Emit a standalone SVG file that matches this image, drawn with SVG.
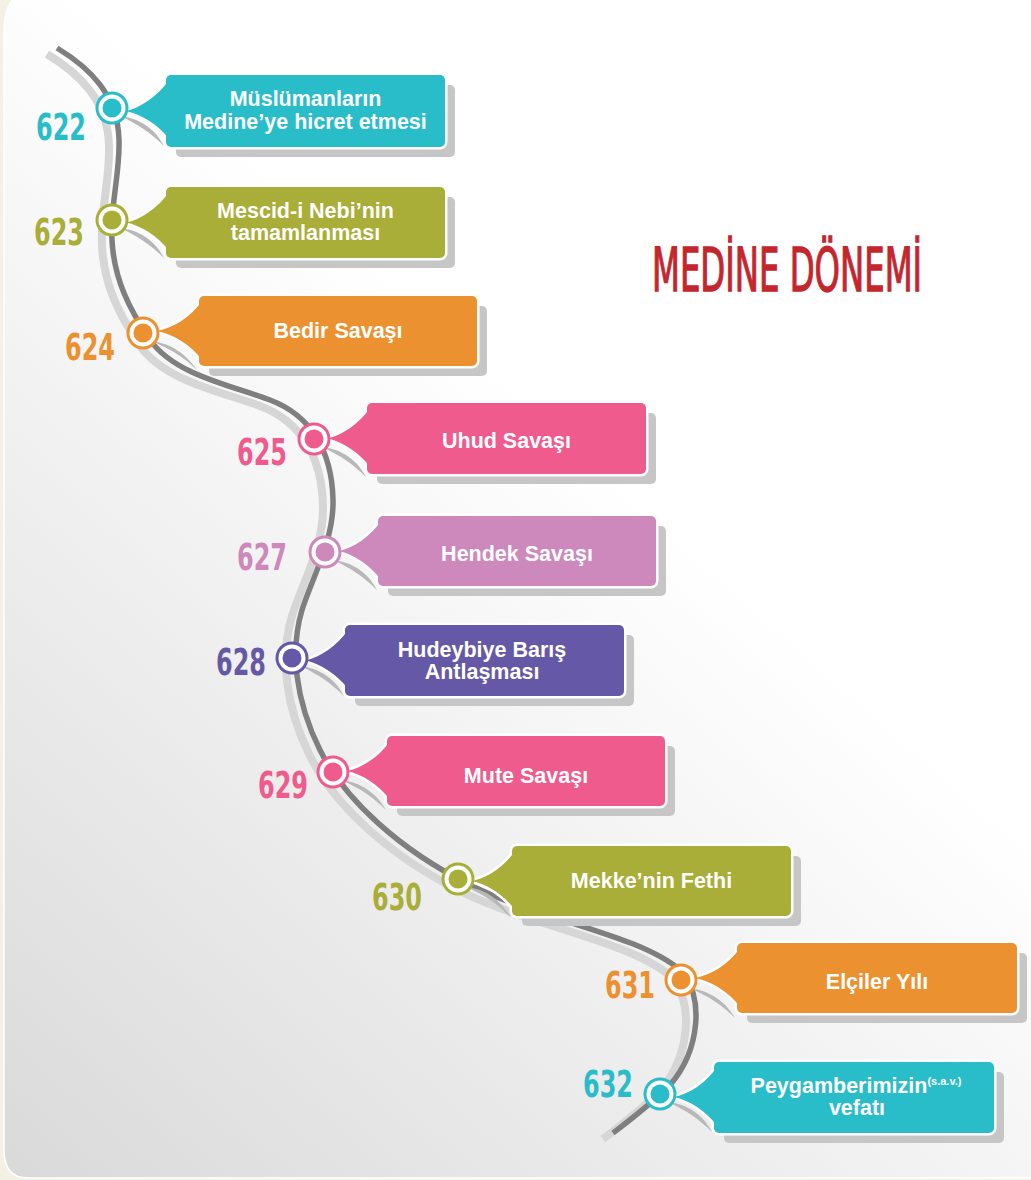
<svg xmlns="http://www.w3.org/2000/svg" width="1031" height="1180" viewBox="0 0 1031 1180">
<defs>
<linearGradient id="bg" gradientUnits="userSpaceOnUse" x1="0" y1="1180" x2="620" y2="480">
<stop offset="0" stop-color="#d9d9d9"/>
<stop offset="1" stop-color="#ffffff"/>
</linearGradient>
<path id="road" d="M57 48 C90 68 118 95 119 140 C120 175 110 205 112 240 C114 280 130 310 150 340 C175 375 230 385 270 400 C310 415 332 450 333 500 C334 540 312 578 302 610 C290 650 295 700 320 750 C345 800 400 850 470 885 C540 920 640 935 680 970 C705 995 700 1050 670 1085 C650 1105 630 1120 613 1133"/>
</defs>
<style>
.shadow{fill:#c6c6c6}
.pshadow{fill:#b8b8b8}
.outline{fill:none;stroke:#ffffff;stroke-width:5;stroke-linejoin:round}
.lbl{font-family:"Liberation Sans",Arial,sans-serif;font-weight:bold;font-size:21.5px;fill:#ffffff;text-anchor:middle}
.sup{font-size:11px}
.yr{font-family:"Liberation Sans Narrow","DejaVu Sans Condensed","Liberation Sans",sans-serif;font-stretch:condensed;font-weight:bold;font-size:38px;text-anchor:end}
.teal{fill:#29bcc9}
.olive{fill:#a8ae37}
.orange{fill:#ec9130}
.pink{fill:#ef5b8d}
.mauve{fill:#cd88bc}
.purple{fill:#6558a6}
</style>
<rect x="0" y="0" width="1031" height="1180" fill="#f4f0e3"/>
<path d="M4 -10 H1060 V1150 Q1060 1178 1030 1178 H28 Q4 1178 4 1150 V32 Q4 -10 36 -10 Z" fill="url(#bg)" stroke="#ffffff" stroke-width="1.5"/>

<g id="connectors">
<use href="#road" transform="translate(-10,6)" fill="none" stroke="#d6d6d6" stroke-width="8"/>
<use href="#road" fill="none" stroke="#7f7f7f" stroke-width="5.5"/>
</g>

<g id="title" transform="translate(652,291) scale(0.672,1)">
<text x="0" y="0" font-family="'Liberation Sans Narrow','DejaVu Sans Condensed','Liberation Sans',sans-serif" font-size="60" fill="#c4262e" stroke="#c4262e" stroke-width="1.3" textLength="402" lengthAdjust="spacingAndGlyphs">MEDİNE DÖNEMİ</text>
</g>

<!-- 622 -->
<g id="n622">
<rect class="shadow" x="176" y="85" width="279" height="72" rx="5"/>
<path class="pshadow" d="M120 116 C140 118 156 130 164 146 C152 134 138 124 120 116 Z"/>
<path class="outline" d="M169 80 C158 96 140 108 126 111 C140 114 158 124 169 139 Z"/>
<rect class="outline" x="166" y="75" width="279" height="72" rx="5"/>
<path class="teal" d="M169 80 C158 96 140 108 126 111 C140 114 158 124 169 139 Z"/>
<rect class="teal" x="166" y="75" width="279" height="72" rx="5"/>
<circle class="teal" cx="112" cy="108" r="16.5"/>
<circle cx="112" cy="108" r="13.5" fill="#ffffff"/>
<circle class="teal" cx="112" cy="108" r="9.5"/>
<text class="lbl" x="305.5" y="106">Müslümanların</text>
<text class="lbl" x="305.5" y="129">Medine’ye hicret etmesi</text>
<text class="yr teal" x="86" y="140" textLength="50" lengthAdjust="spacingAndGlyphs">622</text>
</g>

<!-- 623 -->
<g id="n623">
<rect class="shadow" x="176" y="197" width="279" height="71" rx="5"/>
<path class="pshadow" d="M120 228 C140 230 156 242 164 258 C152 246 138 236 120 228 Z"/>
<path class="outline" d="M169 192 C158 208 140 220 126 222.5 C140 225 158 236 169 251 Z"/>
<rect class="outline" x="166" y="187" width="279" height="71" rx="5"/>
<path class="olive" d="M169 192 C158 208 140 220 126 222.5 C140 225 158 236 169 251 Z"/>
<rect class="olive" x="166" y="187" width="279" height="71" rx="5"/>
<circle class="olive" cx="112" cy="220" r="16.5"/>
<circle cx="112" cy="220" r="13.5" fill="#ffffff"/>
<circle class="olive" cx="112" cy="220" r="9.5"/>
<text class="lbl" x="305.5" y="218">Mescid-i Nebi’nin</text>
<text class="lbl" x="305.5" y="240">tamamlanması</text>
<text class="yr olive" x="84" y="245" textLength="50" lengthAdjust="spacingAndGlyphs">623</text>
</g>

<!-- 624 -->
<g id="n624">
<rect class="shadow" x="209" y="306" width="278" height="70" rx="5"/>
<path class="pshadow" d="M151 341 C171 343 187 355 197 370 C185 358 171 349 151 341 Z"/>
<path class="outline" d="M202 301 C191 317 173 328 157 331 C173 334 191 345 202 360 Z"/>
<rect class="outline" x="199" y="296" width="278" height="70" rx="5"/>
<path class="orange" d="M202 301 C191 317 173 328 157 331 C173 334 191 345 202 360 Z"/>
<rect class="orange" x="199" y="296" width="278" height="70" rx="5"/>
<circle class="orange" cx="143" cy="333" r="16.5"/>
<circle cx="143" cy="333" r="13.5" fill="#ffffff"/>
<circle class="orange" cx="143" cy="333" r="9.5"/>
<text class="lbl" x="338" y="338">Bedir Savaşı</text>
<text class="yr orange" x="115" y="360" textLength="50" lengthAdjust="spacingAndGlyphs">624</text>
</g>

<!-- 625 -->
<g id="n625">
<rect class="shadow" x="377" y="413" width="279" height="71" rx="5"/>
<path class="pshadow" d="M322 447 C342 449 358 461 366 477 C354 465 340 455 322 447 Z"/>
<path class="outline" d="M370 408 C359 424 342 435 328 438.5 C342 442 359 452 370 467 Z"/>
<rect class="outline" x="367" y="403" width="279" height="71" rx="5"/>
<path class="pink" d="M370 408 C359 424 342 435 328 438.5 C342 442 359 452 370 467 Z"/>
<rect class="pink" x="367" y="403" width="279" height="71" rx="5"/>
<circle class="pink" cx="314" cy="439" r="16.5"/>
<circle cx="314" cy="439" r="13.5" fill="#ffffff"/>
<circle class="pink" cx="314" cy="439" r="9.5"/>
<text class="lbl" x="506.5" y="448">Uhud Savaşı</text>
<text class="yr pink" x="287" y="465" textLength="50" lengthAdjust="spacingAndGlyphs">625</text>
</g>

<!-- 627 -->
<g id="n627">
<rect class="shadow" x="388" y="526" width="278" height="70" rx="5"/>
<path class="pshadow" d="M333 560 C353 562 369 574 377 590 C365 578 351 568 333 560 Z"/>
<path class="outline" d="M381 521 C370 537 353 548 339 551 C353 554 370 565 381 580 Z"/>
<rect class="outline" x="378" y="516" width="278" height="70" rx="5"/>
<path class="mauve" d="M381 521 C370 537 353 548 339 551 C353 554 370 565 381 580 Z"/>
<rect class="mauve" x="378" y="516" width="278" height="70" rx="5"/>
<circle class="mauve" cx="325" cy="552" r="16.5"/>
<circle cx="325" cy="552" r="13.5" fill="#ffffff"/>
<circle class="mauve" cx="325" cy="552" r="9.5"/>
<text class="lbl" x="517" y="561">Hendek Savaşı</text>
<text class="yr mauve" x="287" y="570" textLength="50" lengthAdjust="spacingAndGlyphs">627</text>
</g>

<!-- 628 -->
<g id="n628">
<rect class="shadow" x="355" y="635" width="279" height="71" rx="5"/>
<path class="pshadow" d="M300 666 C320 668 336 680 344 696 C332 684 318 674 300 666 Z"/>
<path class="outline" d="M348 630 C337 646 320 657 306 660.5 C320 664 337 674 348 689 Z"/>
<rect class="outline" x="345" y="625" width="279" height="71" rx="5"/>
<path class="purple" d="M348 630 C337 646 320 657 306 660.5 C320 664 337 674 348 689 Z"/>
<rect class="purple" x="345" y="625" width="279" height="71" rx="5"/>
<circle class="purple" cx="292" cy="658" r="16.5"/>
<circle cx="292" cy="658" r="13.5" fill="#ffffff"/>
<circle class="purple" cx="292" cy="658" r="9.5"/>
<text class="lbl" x="482" y="657">Hudeybiye Barış</text>
<text class="lbl" x="482" y="679">Antlaşması</text>
<text class="yr purple" x="266" y="675" textLength="50" lengthAdjust="spacingAndGlyphs">628</text>
</g>

<!-- 629 -->
<g id="n629">
<rect class="shadow" x="397" y="746" width="278" height="70" rx="5"/>
<path class="pshadow" d="M341 780 C361 782 377 794 386 810 C374 798 360 788 341 780 Z"/>
<path class="outline" d="M390 741 C379 757 362 768 347 771 C362 774 379 785 390 800 Z"/>
<rect class="outline" x="387" y="736" width="278" height="70" rx="5"/>
<path class="pink" d="M390 741 C379 757 362 768 347 771 C362 774 379 785 390 800 Z"/>
<rect class="pink" x="387" y="736" width="278" height="70" rx="5"/>
<circle class="pink" cx="333" cy="772" r="16.5"/>
<circle cx="333" cy="772" r="13.5" fill="#ffffff"/>
<circle class="pink" cx="333" cy="772" r="9.5"/>
<text class="lbl" x="526" y="783">Mute Savaşı</text>
<text class="yr pink" x="308" y="798" textLength="50" lengthAdjust="spacingAndGlyphs">629</text>
</g>

<!-- 630 -->
<g id="n630">
<rect class="shadow" x="522" y="856" width="279" height="70" rx="5"/>
<path class="pshadow" d="M466 887 C486 889 502 901 511 918 C499 905 485 895 466 887 Z"/>
<path class="outline" d="M515 851 C504 867 487 878 472 881 C487 884 504 895 515 910 Z"/>
<rect class="outline" x="512" y="846" width="279" height="70" rx="5"/>
<path class="olive" d="M515 851 C504 867 487 878 472 881 C487 884 504 895 515 910 Z"/>
<rect class="olive" x="512" y="846" width="279" height="70" rx="5"/>
<circle class="olive" cx="458" cy="879" r="16.5"/>
<circle cx="458" cy="879" r="13.5" fill="#ffffff"/>
<circle class="olive" cx="458" cy="879" r="9.5"/>
<text class="lbl" x="651.5" y="888">Mekke’nin Fethi</text>
<text class="yr olive" x="422" y="910" textLength="50" lengthAdjust="spacingAndGlyphs">630</text>
</g>

<!-- 631 -->
<g id="n631">
<rect class="shadow" x="747" y="953" width="280" height="70" rx="5"/>
<path class="pshadow" d="M689 988 C709 990 726 1002 735 1018 C723 1006 709 996 689 988 Z"/>
<path class="outline" d="M740 948 C729 964 711 975 695 978 C711 981 729 992 740 1007 Z"/>
<rect class="outline" x="737" y="943" width="280" height="70" rx="5"/>
<path class="orange" d="M740 948 C729 964 711 975 695 978 C711 981 729 992 740 1007 Z"/>
<rect class="orange" x="737" y="943" width="280" height="70" rx="5"/>
<circle class="orange" cx="681" cy="980" r="16.5"/>
<circle cx="681" cy="980" r="13.5" fill="#ffffff"/>
<circle class="orange" cx="681" cy="980" r="9.5"/>
<text class="lbl" x="877" y="989">Elçiler Yılı</text>
<text class="yr orange" x="655" y="998" textLength="50" lengthAdjust="spacingAndGlyphs">631</text>
</g>

<!-- 632 -->
<g id="n632">
<rect class="shadow" x="724" y="1072" width="280" height="71" rx="5"/>
<path class="pshadow" d="M668 1102 C688 1104 704 1116 712 1132 C700 1120 686 1110 668 1102 Z"/>
<path class="outline" d="M717 1067 C706 1083 689 1094 674 1097 C689 1100 706 1111 717 1126 Z"/>
<rect class="outline" x="714" y="1062" width="280" height="71" rx="5"/>
<path class="teal" d="M717 1067 C706 1083 689 1094 674 1097 C689 1100 706 1111 717 1126 Z"/>
<rect class="teal" x="714" y="1062" width="280" height="71" rx="5"/>
<circle class="teal" cx="660" cy="1094" r="16.5"/>
<circle cx="660" cy="1094" r="13.5" fill="#ffffff"/>
<circle class="teal" cx="660" cy="1094" r="9.5"/>
<text class="lbl" x="856" y="1093">Peygamberimizin<tspan class="sup" dy="-8">(s.a.v.)</tspan></text>
<text class="lbl" x="857" y="1115">vefatı</text>
<text class="yr teal" x="633" y="1097" textLength="50" lengthAdjust="spacingAndGlyphs">632</text>
</g>
</svg>
